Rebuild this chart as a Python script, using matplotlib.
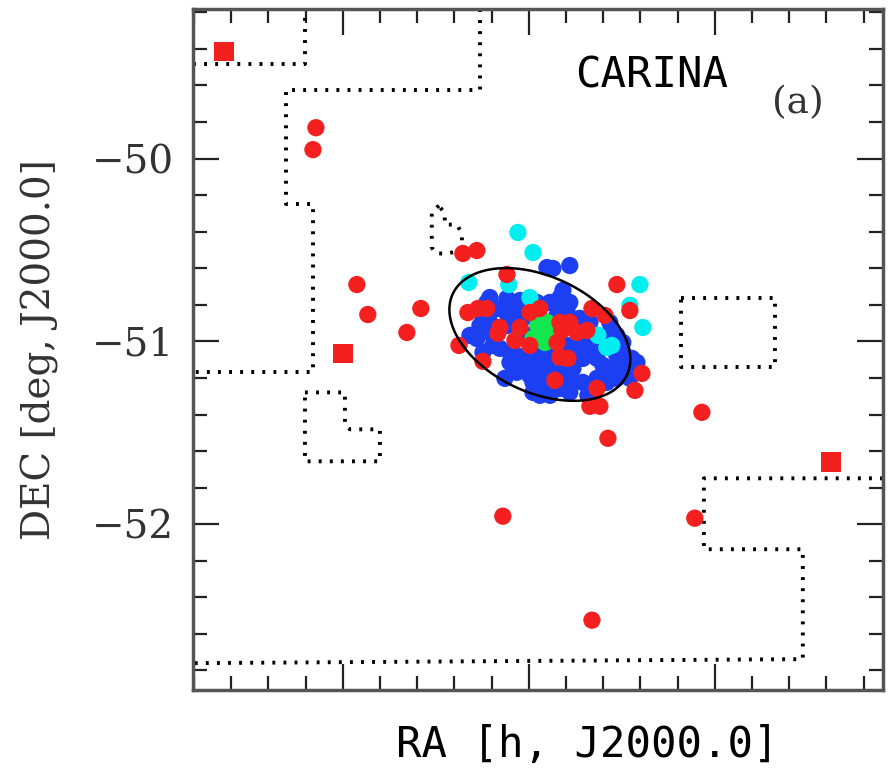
import matplotlib
matplotlib.use("Agg")
import matplotlib.pyplot as plt
import numpy as np
from matplotlib.ticker import MultipleLocator, FixedLocator

# ---- data (RA in hours, DEC in degrees) ----
sq_ra = [6.8640, 6.8000, 6.5376]
sq_dec = [-49.415, -51.066, -51.661]

red_ra = [6.8145, 6.8161, 6.7925, 6.7866, 6.7581, 6.7656, 6.7376, 6.7355, 6.7280,
          6.7247, 6.7140, 6.6661, 6.6672, 6.6618, 6.6575, 6.6527, 6.6457, 6.6392,
          6.6430, 6.6070, 6.6108, 6.7118,
          6.7328, 6.7274, 6.7226, 6.7156, 6.7167, 6.7048, 6.7075, 6.6995, 6.6941,
          6.6995, 6.6833, 6.6823, 6.6780, 6.6742, 6.6688, 6.6849, 6.6833, 6.6790,
          6.6661, 6.6591, 6.6860, 6.6634]
red_dec = [-49.831, -49.951, -50.689, -50.853, -50.820, -50.951, -51.022, -50.519, -50.503,
           -51.109, -51.956, -52.525, -51.355, -51.355, -51.530, -50.689, -50.831, -51.175,
           -51.268, -51.388, -51.967, -50.634,
           -50.842, -50.820, -50.820, -50.924, -50.956, -50.924, -50.995, -50.842, -50.820,
           -51.022, -50.896, -50.940, -50.896, -50.951, -50.940, -51.006, -51.087, -51.093,
           -50.820, -50.858, -51.213, -51.257]

cyan_ra = [6.7059, 6.6978, 6.7323, 6.7108, 6.6995, 6.6403, 6.6387, 6.6581, 6.6629, 6.6457, 6.6554]
cyan_dec = [-50.404, -50.514, -50.678, -50.689, -50.760, -50.689, -50.924, -51.033, -50.967, -50.803, -51.022]

green_ra = [6.6952, 6.6903, 6.6978, 6.6914, 6.6941, 6.6887]
green_dec = [-50.913, -50.896, -50.984, -51.006, -50.951, -50.967]

blue_ra = [6.6903, 6.6871, 6.6780, 6.6817, 6.7210, 6.7118, 6.7048, 6.6957, 6.6887, 6.6833,
           6.6796, 6.7247, 6.7172, 6.7118, 6.7065, 6.7317, 6.7210, 6.7118, 6.7086, 6.7156,
           6.7102, 6.7065, 6.7011, 6.6957, 6.6903, 6.7102, 6.7032, 6.6957, 6.6903, 6.7129,
           6.7065, 6.6995, 6.6957, 6.6887, 6.6833, 6.6763, 6.6710, 6.6672, 6.6634, 6.6602,
           6.6565, 6.6511, 6.6495, 6.6419, 6.6457, 6.6527, 6.6581, 6.6634, 6.6710, 6.6763,
           6.6796, 6.6833, 6.6925, 6.6978, 6.6726, 6.6672, 6.6634, 6.6565, 6.6527, 6.6495,
           6.6565, 6.6710, 6.6796, 6.6887, 6.6941, 6.7032, 6.6849, 6.6742, 6.6688, 6.6602,
           6.6527, 6.7210, 6.7263, 6.7280, 6.7194, 6.7247, 6.6995, 6.7226, 6.6833, 6.6780,
           6.6672, 6.6978, 6.6941, 6.6780, 6.6683, 6.6887, 6.6473, 6.6446]
blue_dec = [-50.596, -50.601, -50.585, -50.721, -50.760, -50.765, -50.776, -50.787, -50.787, -50.814,
            -50.831, -50.858, -50.820, -50.847, -50.842, -50.967, -50.896, -50.913, -50.896, -51.038,
            -51.060, -51.077, -51.087, -51.077, -51.066, -51.115, -51.131, -51.131, -51.131, -51.202,
            -51.169, -51.186, -51.202, -51.186, -51.169, -51.148, -51.093, -51.060, -51.093, -51.131,
            -51.148, -51.148, -51.060, -51.115, -51.202, -51.202, -51.224, -51.202, -51.224, -51.224,
            -51.240, -51.257, -51.268, -51.224, -50.874, -50.896, -50.967, -50.951, -50.967, -51.006,
            -50.896, -51.006, -51.022, -51.038, -50.874, -50.874, -50.858, -51.038, -51.038, -51.022,
            -51.077, -50.951, -50.913, -50.984, -51.022, -51.060, -50.967, -50.787, -50.760, -50.787,
            -50.967, -51.279, -51.295, -51.279, -51.295, -51.295, -51.131, -51.093]

# survey boundary pieces (dotted)
bnd_a_ra = [6.8806, 6.8204, 6.8204]
bnd_a_dec = [-49.481, -49.481, -49.180]
bnd_b_ra = [6.7263, 6.7263, 6.8306, 6.8306, 6.8161, 6.8161, 6.8806]
bnd_b_dec = [-49.180, -49.623, -49.623, -50.251, -50.251, -51.169, -51.169]
bnd_c_ra = [6.5096, 6.6059, 6.6059, 6.5527, 6.5527, 6.8806]
bnd_c_dec = [-51.749, -51.749, -52.137, -52.137, -52.738, -52.760]
bnd_d_ra = [6.7484, 6.7522, 6.7522, 6.7500, 6.7441, 6.7360, 6.7360, 6.7387, 6.7452, 6.7452, 6.7484]
bnd_d_dec = [-50.257, -50.295, -50.486, -50.519, -50.519, -50.503, -50.410, -50.361, -50.361, -50.301, -50.257]
bnd_e_ra = [6.8204, 6.7989, 6.7989, 6.7962, 6.7801, 6.7801, 6.8204, 6.8204]
bnd_e_dec = [-51.279, -51.279, -51.459, -51.481, -51.481, -51.656, -51.656, -51.279]
bnd_f_ra = [6.6183, 6.5677, 6.5677, 6.6183, 6.6183]
bnd_f_dec = [-50.760, -50.760, -51.142, -51.142, -50.760]

# tidal ellipse
ell_ra0, ell_dec0 = 6.6941, -50.962
ell_a, ell_b = 0.525, 0.317      # deg
ell_tilt = 25.0                  # deg below horizontal
ra_per_deg = 0.0984              # plotted hours per plotted degree

fig = plt.figure(figsize=(8.93, 7.69), dpi=100)
ax = fig.add_axes([0.2161, 0.1027, 0.7727, 0.8860])

dot = dict(color="black", lw=2.8, ls=(0, (0.75, 2.1)), dash_capstyle="butt")
for rr, dd in [(bnd_a_ra, bnd_a_dec), (bnd_b_ra, bnd_b_dec), (bnd_c_ra, bnd_c_dec),
               (bnd_d_ra, bnd_d_dec), (bnd_e_ra, bnd_e_dec), (bnd_f_ra, bnd_f_dec)]:
    ax.plot(rr, dd, **dot)

ms = 155
ax.scatter(blue_ra, blue_dec, s=ms, c="#1d3ff2", edgecolors="none", zorder=3)
ax.scatter(cyan_ra, cyan_dec, s=ms, c="#00eef0", edgecolors="none", zorder=4)
ax.scatter(green_ra, green_dec, s=ms, c="#12e84e", edgecolors="none", zorder=5)
ax.scatter(red_ra, red_dec, s=ms, c="#f42020", edgecolors="none", zorder=6)
ax.scatter(sq_ra, sq_dec, s=200, marker="s", c="#f42020", edgecolors="none", zorder=6)

t = np.linspace(0, 2 * np.pi, 300)
phi = np.radians(ell_tilt)
u = ell_a * np.cos(t)
v = ell_b * np.sin(t)
dx = u * np.cos(phi) - v * np.sin(phi)
dy = u * np.sin(phi) + v * np.cos(phi)
ax.plot(ell_ra0 - dx * ra_per_deg, ell_dec0 - dy, color="black", lw=1.8, zorder=7)

ax.set_xlim(6.8806, 6.5096)
ax.set_ylim(-52.907, -49.180)

ax.xaxis.set_major_locator(FixedLocator([6.6, 6.7, 6.8]))
ax.xaxis.set_minor_locator(MultipleLocator(0.02))
ax.yaxis.set_major_locator(MultipleLocator(1))
ax.yaxis.set_minor_locator(MultipleLocator(0.2))
ax.tick_params(which="both", direction="in", top=True, right=True, color="#222222", width=1.6)
ax.tick_params(which="major", length=19)
ax.tick_params(which="minor", length=10)
ax.tick_params(axis="x", labelbottom=False)
ax.tick_params(axis="y", pad=14, labelsize=28, labelcolor="#333333")
for lab in ax.get_yticklabels():
    lab.set_family("DejaVu Serif")
ax.yaxis.set_major_formatter(matplotlib.ticker.FuncFormatter(lambda v, p: "\u2212%d" % abs(v)))
for sp in ax.spines.values():
    sp.set_linewidth(2.5)
    sp.set_color("#555555")

ax.set_ylabel("DEC [deg, J2000.0]", family="DejaVu Serif", fontsize=28, color="#333333")
ax.yaxis.set_label_coords(-0.222, 0.5)
ax.yaxis.label.set_va("center")
ax.set_xlabel("RA [h, J2000.0]", family="DejaVu Sans Mono", fontsize=30.5)
ax.xaxis.set_label_coords(0.572, -0.08)
ax.xaxis.label.set_va("center")

ax.text(0.665, 0.902, "CARINA", transform=ax.transAxes, family="DejaVu Sans Mono",
        fontsize=30.5, ha="center", va="center")
ax.text(0.877, 0.862, "(a)", transform=ax.transAxes, family="DejaVu Serif",
        fontsize=27, ha="center", va="center", color="#333333")

fig.savefig("out.png", dpi=100)
